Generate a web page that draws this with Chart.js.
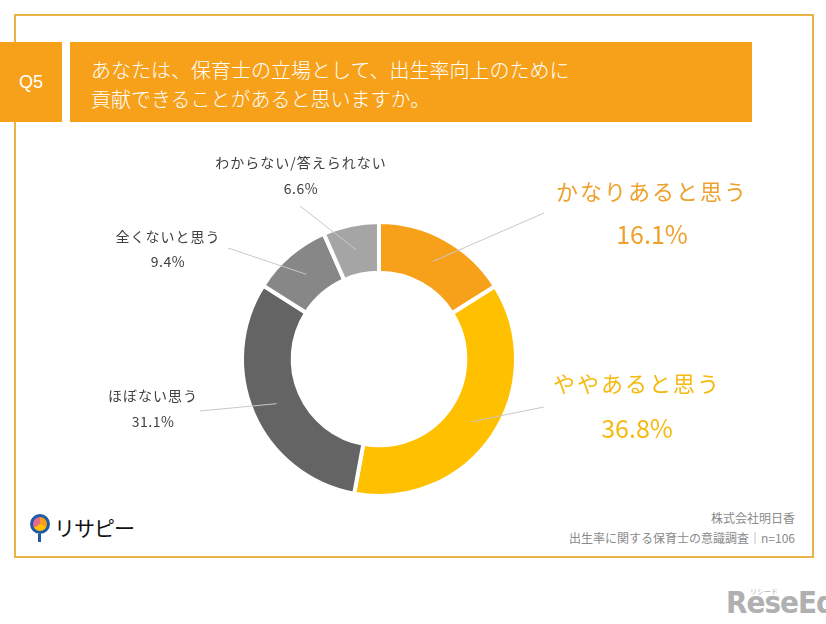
<!DOCTYPE html>
<html>
<head>
<meta charset="utf-8">
<script src="https://cdn.jsdelivr.net/npm/chart.js@4/dist/chart.umd.min.js"></script>
<style>
  body { margin: 0; background: #fff; font-family: "Noto Sans CJK JP", "Noto Sans", sans-serif; }
  #page { position: relative; width: 826px; height: 624px; overflow: hidden; }
  .frame { position: absolute; left: 14px; top: 14px; width: 796px; height: 540px; border: 2px solid #e9b445; }
  .qbox { position: absolute; left: 0; top: 42px; width: 62px; height: 80px; background: #f7a11a; color: #fff;
          font-family: "Liberation Sans", Arial, sans-serif; font-size: 18px; line-height: 80px; text-align: center; }
  .tbox { position: absolute; left: 70px; top: 42px; width: 682px; height: 80px; background: #f7a11a; color: #fff;
          font-size: 20px; font-weight: 300; line-height: 29px; box-sizing: border-box; padding: 13px 0 0 21px; }
  .src { position: absolute; right: 31px; top: 508px; text-align: right; color: #8a8a8a; font-size: 12px; line-height: 20px; }
  .logo { position: absolute; left: 30px; top: 514px; height: 32px; }
  .pin { position: absolute; left: 0; top: 0; width: 14px; height: 14px; border: 3px solid #1e5aa8; border-radius: 50%;
         background: conic-gradient(#f5a01a 0 33%, #ffc000 33% 66%, #e86a8a 66% 100%); }
  .pin:after { content: ""; position: absolute; left: 5px; top: 17px; width: 3px; height: 8px; background: #1e5aa8; }
  .logotxt { position: absolute; left: 24px; top: -2px; font-size: 21px; color: #111; white-space: nowrap; letter-spacing: -1px; }
  .mark { position: absolute; left: 726px; top: 584px; color: #b0b0b0; font-family: "DejaVu Sans Condensed", sans-serif;
          font-weight: bold; font-size: 31px; letter-spacing: -1px; }
  .mark small { position: absolute; left: 24px; top: 2px; font-size: 7px; font-weight: normal; letter-spacing: 0;
                font-family: "Noto Sans CJK JP", sans-serif; }
  canvas { position: absolute; left: 0; top: 0; }
</style>
</head>
<body>
<div id="page">
  <div class="frame"></div>
  <div class="qbox">Q5</div>
  <div class="tbox">あなたは、保育士の立場として、出生率向上のために<br>貢献できることがあると思いますか。</div>
  <div class="logo"><div class="pin"></div><div class="logotxt">リサピー</div></div>
  <div class="src">株式会社明日香<br>出生率に関する保育士の意識調査｜n=106</div>
  <div class="mark"><small>リシード</small>ReseEd</div>
  <canvas id="donut" width="826" height="624"></canvas>
</div>
<script>
const answers = ['かなりあると思う', 'ややあると思う', 'ほぼない思う', '全くないと思う', 'わからない/答えられない'];
const percents = [16.1, 36.8, 31.1, 9.4, 6.6];
const sliceColors = ['#f7a11a', '#ffc000', '#646464', '#878787', '#a5a5a5'];

// label placement (text centre, leader line end), styling
const labelStyle = [
  { x: 652, y: 192, gap: 42, lx: 544, ly: 213, color: '#eea12c', big: true },
  { x: 637, y: 384, gap: 44, lx: 544, ly: 407, color: '#f5ba12', big: true },
  { x: 153, y: 396, gap: 26, lx: 200, ly: 411, color: '#404040' },
  { x: 168, y: 237, gap: 25, lx: 228, ly: 248, color: '#404040' },
  { x: 301, y: 163, gap: 26, lx: 300, ly: 206, color: '#404040' }
];

const calloutPlugin = {
  id: 'callouts',
  afterDatasetsDraw(chart) {
    const ctx = chart.ctx;
    const arcs = chart.getDatasetMeta(0).data;
    ctx.save();
    arcs.forEach((arc, i) => {
      const s = labelStyle[i];
      const p = arc.tooltipPosition();
      ctx.strokeStyle = '#c8c8c8';
      ctx.lineWidth = 1;
      ctx.beginPath();
      ctx.moveTo(p.x, p.y);
      ctx.lineTo(s.lx, s.ly);
      ctx.stroke();
      ctx.fillStyle = s.color;
      ctx.textAlign = 'center';
      ctx.textBaseline = 'middle';
      ctx.letterSpacing = s.big ? '2px' : '1px';
      ctx.font = (s.big ? 22 : 14) + 'px "Noto Sans CJK JP"';
      ctx.fillText(answers[i], s.x, s.y);
      ctx.letterSpacing = s.big ? '0px' : '0.5px';
      ctx.font = (s.big ? 25 : 14) + 'px "Noto Sans CJK JP"';
      ctx.fillText(percents[i].toFixed(1) + '%', s.x, s.y + s.gap);
    });
    ctx.restore();
  }
};

new Chart(document.getElementById('donut').getContext('2d'), {
  type: 'doughnut',
  data: {
    labels: answers,
    datasets: [{
      data: percents,
      backgroundColor: sliceColors,
      borderColor: '#ffffff',
      borderWidth: 4
    }]
  },
  options: {
    responsive: false,
    animation: false,
    cutout: '63%',
    layout: { padding: { left: 240, right: 308, top: 220, bottom: 126 } },
    plugins: {
      legend: { display: false },
      tooltip: { enabled: false }
    }
  },
  plugins: [calloutPlugin]
});
</script>
</body>
</html>
